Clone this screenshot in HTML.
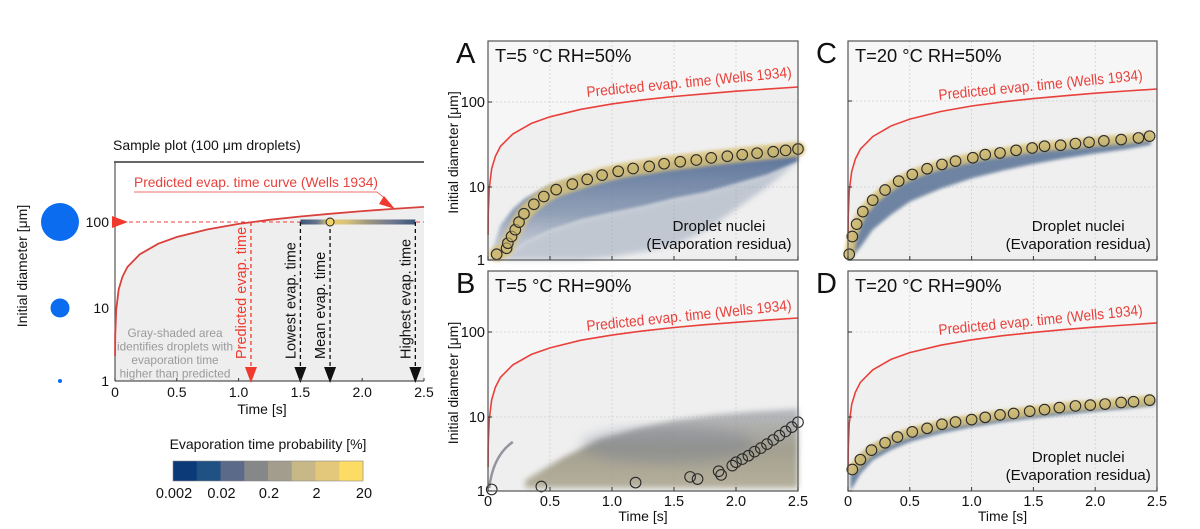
<!DOCTYPE html>
<html><head><meta charset="utf-8"><style>
html,body{margin:0;padding:0;background:#fff;}
svg{display:block;font-family:"Liberation Sans",Arial,sans-serif;}
</style></head><body>
<svg id="fig" width="1200" height="529" viewBox="0 0 1200 529" xmlns="http://www.w3.org/2000/svg">
<defs>
<linearGradient id="barGrad" x1="0" x2="1" y1="0" y2="0">
<stop offset="0" stop-color="#3d5478"/><stop offset="0.15" stop-color="#6a7790"/><stop offset="0.25" stop-color="#e8cf6e"/><stop offset="0.4" stop-color="#d9c27a"/><stop offset="0.6" stop-color="#9a9480"/><stop offset="0.8" stop-color="#6d7890"/><stop offset="1" stop-color="#3d5478"/>
</linearGradient>
<linearGradient id="sparseGrad" x1="0" x2="0" y1="0" y2="1">
<stop offset="0" stop-color="#4a6590" stop-opacity="0.95"/><stop offset="0.6" stop-color="#6a7fa0" stop-opacity="0.7"/><stop offset="1" stop-color="#a9b3c2" stop-opacity="0.4"/>
</linearGradient>
<linearGradient id="diffGrad" x1="0" x2="0" y1="0" y2="1">
<stop offset="0" stop-color="#8a8e98" stop-opacity="0.55"/><stop offset="0.5" stop-color="#96927f" stop-opacity="0.85"/><stop offset="1" stop-color="#a09a80" stop-opacity="0.75"/>
</linearGradient>
<filter id="soft" x="-20%" y="-20%" width="140%" height="140%"><feGaussianBlur stdDeviation="6"/></filter>
<filter id="soft2" x="-10%" y="-10%" width="120%" height="120%"><feGaussianBlur stdDeviation="1.5"/></filter>
<filter id="soft3" x="-10%" y="-10%" width="120%" height="120%"><feGaussianBlur stdDeviation="3"/></filter>
</defs>
<g id="root"></g>
</svg>
<script>
// ---------- data ----------
const curveTimes = [0.0005,0.002,0.01,0.03,0.06,0.1,0.2,0.35,0.5,0.75,1,1.25,1.5,1.75,2,2.25,2.5];
const curveA = [2.2,4.2,9.5,16.5,23,30,42,56,67,82,95,106,116,125,134,142,150];
const curveB = [2.1,4.1,9.2,16,22.4,29.2,41,54.5,65,80,92,103,113,122,130,138,146];
const curveC = [2.0,3.9,8.7,15.2,21.2,27.6,38.6,51.5,61.6,75.4,87.4,97.6,106.7,115,123.3,130.6,138];
const curveD = [1.9,3.6,8.1,14.1,19.6,25.6,35.8,47.8,57.2,70,81,90.5,99,106.6,114.3,121,128];
const curveSample = [2.2,4.2,9.5,16.5,23,30,42,56,67,82,95,106,116,125,134,142,150];

const meanTA = [0.07,0.15,0.16,0.19,0.22,0.25,0.29,0.37,0.45,0.55,0.68,0.8,0.92,1.05,1.17,1.3,1.42,1.55,1.68,1.8,1.93,2.05,2.17,2.3,2.4,2.5];
const meanDA = [1.2,1.45,1.7,2.1,2.6,3.3,4.3,5.8,7.4,9.2,10.8,12.3,13.8,15.3,16.5,17.5,18.8,19.8,20.8,22,23,24,25,26,27,28];
const meanTB = [0.03,0.43,1.19,1.63,1.69,1.86,1.88,1.97,2.0,2.05,2.1,2.15,2.2,2.25,2.3,2.35,2.4,2.45,2.5];
const meanDB = [1.05,1.15,1.3,1.55,1.45,1.85,1.65,2.2,2.45,2.7,3.0,3.4,3.8,4.3,4.9,5.6,6.4,7.3,8.5];
const meanTC = [0.01,0.035,0.07,0.12,0.2,0.3,0.41,0.52,0.64,0.76,0.87,1.01,1.11,1.23,1.36,1.49,1.59,1.72,1.84,1.95,2.07,2.21,2.35,2.44];
const meanDC = [1.2,2.1,3.1,4.6,6.6,9.1,11.7,14,16.3,18.3,20,21.9,23.8,24.9,26.7,28.4,29.8,30.6,32,33.1,34.4,35.6,37.2,39];
const meanTD = [0.035,0.1,0.19,0.3,0.4,0.52,0.64,0.76,0.87,1.0,1.11,1.23,1.34,1.47,1.59,1.71,1.84,1.96,2.08,2.21,2.31,2.44];
const meanDD = [1.95,2.65,3.57,4.48,5.37,6.3,7.03,7.98,8.57,9.22,9.9,10.6,11.0,11.7,12.2,12.9,13.5,13.8,14.2,14.8,15.1,15.8];

const cloudTA = [0.03,0.1,0.2,0.3,0.5,0.75,1.0,1.25,1.5,1.75,2.0,2.25,2.5];
const cloudUpA = [1.3,3,5,7,10.5,13.5,16,18,20,22,25,27.5,31];
const cloudMidA = [1,1,1.3,1.8,2.6,3.6,4.5,5.5,7,8.5,11,14,20];
const cloudLoA = [1,1,1,1,1,1,1.1,1.3,1.6,2.5,5,10,20];
const cloudTB = [0.3,0.6,0.9,1.2,1.5,1.8,2.1,2.5];
const cloudUpB = [1.4,2.8,5,7,9,10.5,11.5,12.5];
const cloudMidB = [1.1,1.1,1.1,1.1,1.1,1.1,1.1,1.1];
const cloudLoB = [1.1,1.1,1.1,1.1,1.1,1.1,1.1,1.1];
const cloudTC = [0.01,0.1,0.2,0.35,0.5,0.75,1.0,1.25,1.5,1.75,2.0,2.25,2.45];
const cloudUpC = [1.3,4,7,10.5,14,18.5,22,25.5,28.5,31,34,36.5,40];
const cloudMidC = [1,1.5,2.6,4.2,6.3,9.5,12.6,15.5,18.5,21.5,24.5,27.5,31];
const cloudLoC = [1,1.5,2.6,4.2,6.3,9.5,12.6,15.5,18.5,21.5,24.5,27.5,31];
const cloudTD = [0.02,0.1,0.2,0.35,0.5,0.75,1.0,1.25,1.5,1.75,2.0,2.25,2.48];
const cloudUpD = [1.6,3,4.1,5.4,6.5,8.2,9.7,11,12.1,13.2,14.1,15,16.2];
const cloudMidD = [1,1.7,2.6,3.6,4.6,6,7.3,8.5,9.6,10.6,11.6,12.5,13.6];
const cloudLoD = [1,1.7,2.6,3.6,4.6,6,7.3,8.5,9.6,10.6,11.6,12.5,13.6];

const xTicks = [0,0.5,1.0,1.5,2.0,2.5];
const xTickLabels = ["0","0.5","1.0","1.5","2.0","2.5"];
const yTicks = [1,10,100];
const yTickLabels = ["1","10","100"];
const cbarColors = ["#0c3a78","#1f5283","#5a6a88","#868788","#a39d8d","#c8b787","#e3c77b","#fddc66"];
const cbarLabels = ["0.002","0.02","0.2","2","20"];
const sampleMarks = [1.1,1.5,1.74,2.43];
const sampleMarkLabels = ["Predicted evap. time","Lowest evap. time","Mean evap. time","Highest evap. time"];

// ---------- helpers ----------
const NS = "http://www.w3.org/2000/svg";
const root = document.getElementById('root');
function mk(tag, attrs, parent, text){
  const e = document.createElementNS(NS, tag);
  for (const k in attrs) e.setAttribute(k, attrs[k]);
  if (text !== undefined) e.textContent = text;
  (parent || root).appendChild(e);
  return e;
}
function xScale(x0, x1){ return t => x0 + (t/2.5)*(x1-x0); }
function yScale(y1, y10, y100){
  return d => { const l = Math.log10(d); return l <= 1 ? y1 + (y10-y1)*l : y10 + (y100-y10)*(l-1); };
}
function linePath(ts, ds, X, Y){ return ts.map((t,i)=>(i?'L':'M')+X(t).toFixed(1)+','+Y(ds[i]).toFixed(1)).join(' '); }
function envPath(ts, up, lo, X, Y){
  return linePath(ts, up, X, Y) + ' ' + linePath(ts.slice().reverse(), lo.slice().reverse(), X, Y).replace('M','L') + ' Z';
}

// ---------- panels ----------
const panels = [
 {id:'a', letter:'A', title:'T=5 °C RH=50%', x0:488, x1:798, top:41, y1:260, y10:187, y100:102, curve:curveA, mt:meanTA, md:meanDA, ct:cloudTA, cu:cloudUpA, cm:cloudMidA, cl:cloudLoA, ylab:true, xlab:false, nuclei:true, lx0:587, ly0:97, lx1:792, ly1:77, type:'wide'},
 {id:'b', letter:'B', title:'T=5 °C RH=90%', x0:488, x1:798, top:271, y1:491, y10:417, y100:332, curve:curveB, mt:meanTB, md:meanDB, ct:cloudTB, cu:cloudUpB, cm:cloudMidB, cl:cloudLoB, ylab:true, xlab:true, nuclei:false, lx0:587, ly0:331, lx1:792, ly1:310, type:'diffuse'},
 {id:'c', letter:'C', title:'T=20 °C RH=50%', x0:848, x1:1157, top:41, y1:260, y10:187, y100:101, curve:curveC, mt:meanTC, md:meanDC, ct:cloudTC, cu:cloudUpC, cm:cloudMidC, cl:cloudLoC, ylab:false, xlab:false, nuclei:true, lx0:939, ly0:100, lx1:1143, ly1:80, type:'narrow'},
 {id:'d', letter:'D', title:'T=20 °C RH=90%', x0:848, x1:1157, top:271, y1:491, y10:417, y100:332, curve:curveD, mt:meanTD, md:meanDD, ct:cloudTD, cu:cloudUpD, cm:cloudMidD, cl:cloudLoD, ylab:false, xlab:true, nuclei:true, lx0:939, ly0:335, lx1:1143, ly1:315, type:'narrow'}
];

panels.forEach(p => {
  const X = xScale(p.x0, p.x1), Y = yScale(p.y1, p.y10, p.y100);
  const g = mk('g', {});
  
  
  const bg = mk('rect', {x:p.x0, y:p.top, width:p.x1-p.x0, height:p.y1-p.top, fill:'#efefef'}, g);
  
  
  const cpath = linePath(curveTimes, p.curve.map(v=>Math.max(v,1)), X, Y);
  const wa = mk('path', {d: 'M'+X(0)+','+p.top+' L'+X(0)+','+p.y1+' '+cpath.replace('M','L')+' L'+X(2.5)+','+p.top+' Z', fill:'#f6f6f6'}, g);
  
  
  xTicks.forEach((t,i) => { if (i>0 && i<xTicks.length-1) mk('line', {x1:X(t), x2:X(t), y1:p.top, y2:p.y1, stroke:'#cfcfcf', 'stroke-dasharray':'2,2', 'stroke-width':0.8}, g); });
  [10,100].forEach(v => mk('line', {x1:p.x0, x2:p.x1, y1:Y(v), y2:Y(v), stroke:'#cfcfcf', 'stroke-dasharray':'2,2', 'stroke-width':0.8}, g));
  if (p.type==='diffuse'){
    const cloud = mk('path', {d:envPath(p.ct, p.cu, p.cl, X, Y), fill:'url(#diffGrad)', filter:'url(#soft3)'}, g);
    
    
    const core = mk('ellipse', {cx:X(1.45), cy:Y(4.2), rx:(X(0.7)-X(0)), ry:18, fill:'#6f7890', opacity:0.35, filter:'url(#soft)'}, g);
    
    
    const strand = mk('path', {d:'M'+X(0.01)+','+Y(1.1)+' Q'+X(0.04)+','+Y(3)+' '+X(0.2)+','+Y(4.6), stroke:'#8a8a92', 'stroke-width':2.5, fill:'none', opacity:0.9}, g);
    
    
  } else {
    if (p.type==='wide'){
      const sparse = mk('path', {d:envPath(p.ct, p.cm, p.cl, X, Y), fill:'#8897ae', opacity:0.45, filter:'url(#soft3)'}, g);
      
      
    }
    const cloud = mk('path', {d:envPath(p.ct, p.cu, p.cm, X, Y), fill:p.type==='wide'?'url(#sparseGrad)':'#4f6a8f', opacity:p.type==='wide'?1:0.8, filter:'url(#soft2)'}, g);
    
    
    const band = mk('path', {d:linePath(p.mt, p.md, X, Y), stroke:'#d9c27a', 'stroke-width': p.type==='wide'?15:10, fill:'none', 'stroke-linecap':'round', opacity:0.85, filter:'url(#soft2)'}, g);
    
    
  }
  const cv = mk('path', {d:cpath, stroke:'#e8413c', 'stroke-width':1.6, fill:'none'}, g);
  
  
  const ang = Math.atan2(p.ly1-p.ly0, p.lx1-p.lx0)*180/Math.PI;
  const len = Math.hypot(p.lx1-p.lx0, p.ly1-p.ly0);
  const cl = mk('text', {x:p.lx0, y:p.ly0, fill:'#e8413c', 'font-size':15, textLength:len.toFixed(0), lengthAdjust:'spacingAndGlyphs', transform:'rotate('+ang.toFixed(2)+' '+p.lx0+' '+p.ly0+')'}, g, 'Predicted evap. time (Wells 1934)');
  
  
  p.mt.forEach((t,i) => {
    const c = mk('circle', {cx:X(t), cy:Y(p.md[i]), r:5.3, fill: p.type==='diffuse'?'none':'#c8b46a', 'fill-opacity':0.6, stroke:'#2a2a2a', 'stroke-width':1.1}, g);
    
    
  });
  const fr = mk('rect', {x:p.x0, y:p.top, width:p.x1-p.x0, height:p.y1-p.top, fill:'none', stroke:'#555', 'stroke-width':1.2}, g);
  
  
  xTicks.forEach((t,i) => {
    mk('line', {x1:X(t), x2:X(t), y1:p.y1, y2:p.y1-4, stroke:'#333'}, g);
    if (p.xlab){
      const tl = mk('text', {x:X(t), y:p.y1+15, 'font-size':14.5, 'text-anchor':'middle', fill:'#111'}, g, xTickLabels[i]);
      
      
    }
  });
  if (p.xlab){
    const xt = mk('text', {x:(p.x0+p.x1)/2, y:p.y1+30, 'font-size':14, 'text-anchor':'middle', fill:'#111'}, g, 'Time [s]');
    
    
  }
  yTicks.forEach((v,i) => {
    mk('line', {x1:p.x0, x2:p.x0+4, y1:Y(v), y2:Y(v), stroke:'#333'}, g);
    if (p.ylab){
      const yl = mk('text', {x:p.x0-3, y:Y(v)+5, 'font-size':14.5, 'text-anchor':'end', fill:'#111'}, g, yTickLabels[i]);
      
      
    }
  });
  if (p.ylab){
    const cy = (p.top+p.y1)/2 + 2;
    const yt = mk('text', {x:458, y:cy, 'font-size':14, 'text-anchor':'middle', fill:'#111', transform:'rotate(-90 458 '+cy+')'}, g, 'Initial diameter [μm]');
    
    
  }
  const lt = mk('text', {x:p.x0-32, y:p.top+22, 'font-size':29, fill:'#111'}, g, p.letter);
  
  
  const tt = mk('text', {x:p.x0+7, y:p.top+21, 'font-size':18.3, fill:'#111'}, g, p.title);
  
  
  if (p.nuclei){
    const cx = p.x0 + 0.745*(p.x1-p.x0);
    const n1 = mk('text', {x:cx, y:p.y1-29, 'font-size':15.2, 'text-anchor':'middle', fill:'#111'}, g, 'Droplet nuclei');
    
    
    const n2 = mk('text', {x:cx, y:p.y1-11, 'font-size':15.2, 'text-anchor':'middle', fill:'#111'}, g, '(Evaporation residua)');
    
    
  }
});

// ---------- sample plot ----------
(function(){
  const x0=115, x1=424, top=162, yb=381;
  const X = xScale(x0, x1), Y = yScale(381, 308, 222);
  const g = mk('g', {});
  
  
  const title = mk('text', {x:113, y:150, 'font-size':14, fill:'#111'}, g, 'Sample plot (100 μm droplets)');
  
  
  const cpath = linePath(curveTimes, curveSample.map(v=>Math.max(v,1)), X, Y);
  const shade = mk('path', {d: cpath + ' L'+x1+','+yb+' L'+x0+','+yb+' Z', fill:'#eeeeee'}, g);
  
  
  mk('line', {x1:x0-1, x2:x1, y1:top, y2:top, stroke:'#333', 'stroke-width':1.6}, g);
  mk('line', {x1:x0, x2:x0, y1:top, y2:yb, stroke:'#555', 'stroke-width':1.2}, g);
  mk('line', {x1:x0, x2:x1, y1:yb, y2:yb, stroke:'#555', 'stroke-width':1.2}, g);
  const cv = mk('path', {d:cpath, stroke:'#d9413c', 'stroke-width':1.8, fill:'none'}, g);
  
  
  mk('line', {x1:x0, x2:x1, y1:Y(100), y2:Y(100), stroke:'#e8413c', 'stroke-width':1, 'stroke-dasharray':'4,3'}, g);
  const la = mk('path', {d:'M'+(x0-3)+','+(Y(100)-6)+' L'+(x0+13)+','+Y(100)+' L'+(x0-3)+','+(Y(100)+6)+' Z', fill:'#f03a2e'}, g);
  
  
  const bar = mk('rect', {x:X(sampleMarks[1]), y:Y(100)-2.5, width:X(sampleMarks[3])-X(sampleMarks[1]), height:5, fill:'url(#barGrad)'}, g);
  
  
  sampleMarks.forEach((t,i) => {
    const col = i===0 ? '#f03a2e' : '#111';
    const xx = X(t);
    mk('line', {x1:xx, x2:xx, y1:Y(100), y2:yb-12, stroke:col, 'stroke-width':1.3, 'stroke-dasharray':'4,3'}, g);
    const ar = mk('path', {d:'M'+(xx-6)+','+(yb-14)+' L'+(xx+6)+','+(yb-14)+' L'+xx+','+(yb+2)+' Z', fill:col}, g);
    
    
    const tx = xx-5, ty = yb-22;
    const lb = mk('text', {x:tx, y:ty, 'font-size':14.5, fill:col, transform:'rotate(-90 '+tx+' '+ty+')'}, g, sampleMarkLabels[i]);
    
    
  });
  const mc = mk('circle', {cx:X(sampleMarks[2]), cy:Y(100), r:4, fill:'#f2d36a', stroke:'#222', 'stroke-width':1}, g);
  
  
  const cl = mk('text', {x:134, y:187, 'font-size':14, fill:'#e8413c', textLength:244, lengthAdjust:'spacingAndGlyphs'}, g, 'Predicted evap. time curve (Wells 1934)');
  
  
  mk('path', {d:'M134,192 L377,192 L387,200', stroke:'#e8413c', 'stroke-width':0.8, fill:'none'}, g);
  mk('path', {d:'M384,196 L395,209 L379,204 Z', fill:'#f03a2e'}, g);
  ["Gray-shaded area","identifies droplets with","evaporation time","higher than predicted"].forEach((s,i) => {
    const t = mk('text', {x:175, y:337+i*13.5, 'font-size':11.8, 'text-anchor':'middle', fill:'#9a9a9a'}, g, s);
    
    
  });
  xTicks.forEach((t,i) => {
    mk('line', {x1:X(t), x2:X(t), y1:yb, y2:yb-3, stroke:'#333'}, g);
    const tl = mk('text', {x:X(t), y:yb+16, 'font-size':14, 'text-anchor':'middle', fill:'#111'}, g, xTickLabels[i]);
    
    
  });
  yTicks.forEach((v,i) => {
    const yl = mk('text', {x:x0-6, y:Y(v)+5, 'font-size':14, 'text-anchor':'end', fill:'#111'}, g, yTickLabels[i]);
    
    
  });
  const xt = mk('text', {x:262, y:414, 'font-size':14, 'text-anchor':'middle', fill:'#111'}, g, 'Time [s]');
  
  
  const yt = mk('text', {x:27, y:266, 'font-size':14, 'text-anchor':'middle', fill:'#111', transform:'rotate(-90 27 266)'}, g, 'Initial diameter [μm]');
  
  
  [[100,19],[10,9.5],[1,2]].forEach(([v,r]) => {
    const c = mk('circle', {cx:60, cy:Y(v), r:r, fill:'#0b6cf0'}, g);
    
    
  });
})();

// ---------- colorbar ----------
(function(){
  const g = mk('g', {});
  
  
  const x0=173, w=190, y=461, h=20, n=cbarColors.length;
  cbarColors.forEach((c,i) => {
    const r = mk('rect', {x:x0+i*w/n, y:y, width:w/n+0.5, height:h, fill:c}, g);
    
    
  });
  mk('rect', {x:x0, y:y, width:w, height:h, fill:'none', stroke:'#888', 'stroke-width':0.6}, g);
  const t = mk('text', {x:268, y:449, 'font-size':14, 'text-anchor':'middle', fill:'#111'}, g, 'Evaporation time probability [%]');
  
  
  cbarLabels.forEach((s,i) => {
    const l = mk('text', {x:x0+1+i*(w/4), y:498, 'font-size':14.5, 'text-anchor':'middle', fill:'#111'}, g, s);
    
    
  });
})();
</script>
</body></html>
